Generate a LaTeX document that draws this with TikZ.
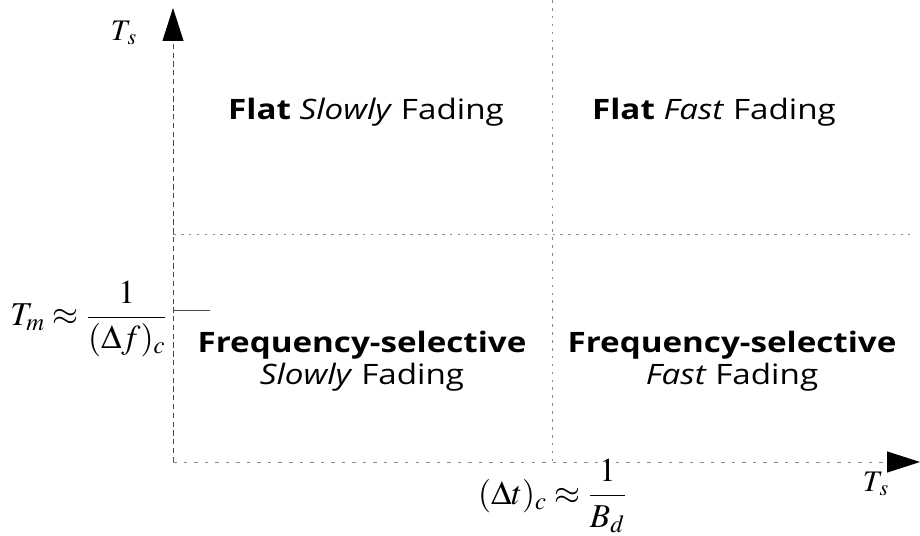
\documentclass[tikz,border=0pt]{standalone}
\usepackage{mathptmx}
\usepackage{fontspec}
\setmainfont{Open Sans}[FakeStretch=1.18]
\usetikzlibrary{arrows.meta, positioning}
\definecolor{cline}{HTML}{4A4A4A}
\definecolor{cdot}{HTML}{8A8A8A}
\tikzset{
  every picture/.style={line width=0.5pt},
  axis/.style={-{Triangle[length=6.6mm, width=4.2mm, color=black]}, draw=cline},
  divider/.style={draw=cdot, dash pattern=on 1.5pt off 3pt},
  region/.style={font=\fontsize{16}{18}\selectfont, align=center, inner sep=0pt},
  lbl/.style={font=\fontsize{19}{21}\selectfont, inner sep=0pt},
}

\begin{document}
\begin{tikzpicture}
  \useasboundingbox (0,0) rectangle (18.4,10.72);
  % axes
  \coordinate (o) at (3.46,1.48);
  \coordinate (ytip) at (3.46,10.56);
  \coordinate (xtip) at (18.4,1.48);
  \draw[axis, densely dashed] (o) -- (ytip);
  \draw[axis, draw=cdot, dash pattern=on 2pt off 4pt] (o) -- (xtip);
  \node[lbl, font=\fontsize{17}{19}\selectfont] (tsy) at (2.48,10.06) {$T_{\,s}$};
  \node[lbl, font=\fontsize{17}{19}\selectfont] (tsx) at (17.52,1.04) {$T_{\,s}$};
  % dividers
  \coordinate (vtop) at (11.04,10.72);
  \coordinate (vbot) at (11.04,1.48);
  \coordinate (hleft) at (3.46,6.04);
  \coordinate (hright) at (18.2,6.04);
  \draw[divider] (vtop) -- (vbot);
  \draw[divider] (hleft) -- (hright);
  % Tm tick
  \coordinate (tm) at (3.46,4.52);
  \coordinate (tmend) at (4.2,4.52);
  \draw[cline] (tm) -- (tmend);
  \node[lbl, anchor=east] (tml) at (3.36,4.34) {$\displaystyle T_{m}\approx\frac{1}{(\Delta f)_{c}}$};
  \node[lbl] (dtl) at (11.05,0.8) {$\displaystyle (\Delta t)_{c}\approx\frac{1}{B_{d}}$};
  % regions
  \node[region, anchor=base] (fs) at (7.32,8.32) {\textbf{Flat} \textit{Slowly} Fading};
  \node[region, anchor=base] (ff) at (14.28,8.32) {\textbf{Flat} \textit{Fast} Fading};
  \node[region] (ss) at (7.24,3.5) {\textbf{Frequency-selective}\\\textit{Slowly} Fading};
  \node[region] (sf) at (14.64,3.5) {\textbf{Frequency-selective}\\\textit{Fast} Fading};
\end{tikzpicture}
\end{document}
